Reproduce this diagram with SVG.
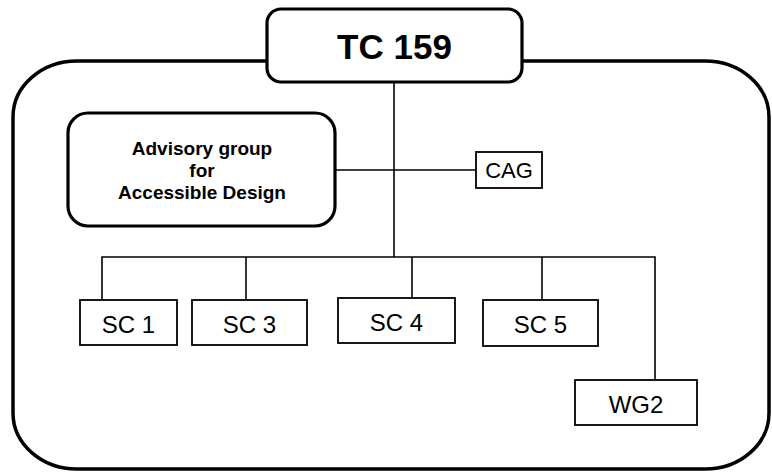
<svg xmlns="http://www.w3.org/2000/svg" width="772" height="473" viewBox="0 0 772 473">
<style>
.thin{fill:none;stroke:#000;stroke-width:1.6}
.box{fill:#fff;stroke:#000;stroke-width:1.8}
.rbox{fill:#fff;stroke:#000;stroke-width:3.2}
.t{font-family:"Liberation Sans",Arial,sans-serif;fill:#000;text-anchor:middle}
.b{font-weight:bold}
</style>
<rect width="772" height="473" fill="#fff"/>
<g id="frame">
<rect x="13" y="61" width="756" height="408" rx="64" ry="56" fill="none" stroke="#000" stroke-width="3.5"/>
</g>
<g id="connectors">
<line class="thin" x1="394" y1="80" x2="394" y2="257"/>
<line class="thin" x1="336" y1="170" x2="476" y2="170"/>
<polyline class="thin" points="102,300 102,257 655,257 655,380"/>
<line class="thin" x1="246" y1="257" x2="246" y2="300"/>
<line class="thin" x1="412" y1="257" x2="412" y2="298"/>
<line class="thin" x1="542" y1="257" x2="542" y2="300"/>
</g>
<g id="tc159">
<rect class="rbox" x="267" y="9" width="255" height="73" rx="14"/>
<text class="t b" x="394.5" y="59" font-size="35">TC 159</text>
</g>
<g id="advisory">
<rect class="rbox" x="68" y="113" width="267" height="113" rx="20"/>
<text class="t b" x="202" y="155" font-size="19">Advisory group</text>
<text class="t b" x="202" y="177" font-size="19">for</text>
<text class="t b" x="202" y="199" font-size="19">Accessible Design</text>
</g>
<g id="cag">
<rect class="box" x="476" y="152" width="66" height="36"/>
<text class="t" x="509" y="178" font-size="22">CAG</text>
</g>
<g id="sc1">
<rect class="box" x="80" y="300" width="97" height="45"/>
<text class="t" x="128.5" y="333" font-size="24">SC 1</text>
</g>
<g id="sc3">
<rect class="box" x="192" y="300" width="115" height="45"/>
<text class="t" x="249.5" y="333" font-size="24">SC 3</text>
</g>
<g id="sc4">
<rect class="box" x="338" y="298" width="117" height="45"/>
<text class="t" x="396.5" y="331" font-size="24">SC 4</text>
</g>
<g id="sc5">
<rect class="box" x="483" y="300" width="115" height="46"/>
<text class="t" x="540.5" y="333" font-size="24">SC 5</text>
</g>
<g id="wg2">
<rect class="box" x="575" y="380" width="122" height="45"/>
<text class="t" x="636" y="413" font-size="24">WG2</text>
</g>
</svg>
